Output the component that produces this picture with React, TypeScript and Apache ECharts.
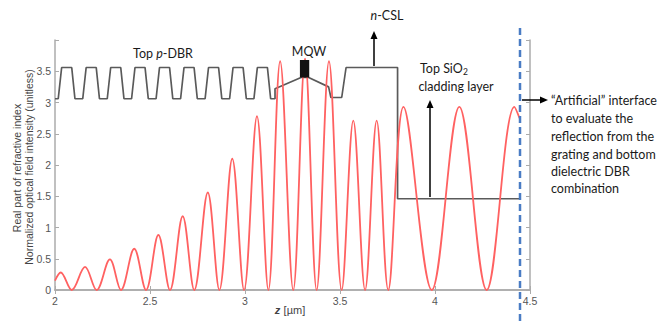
import React, { useEffect, useRef } from 'react';
import * as echarts from 'echarts';

// Tick labels
const xTicks = ['2', '2.5', '3', '3.5', '4', '4.5'];
const yTicks = ['0', '0.5', '1', '1.5', '2', '2.5', '3', '3.5', ''];

// Normalized optical field intensity (red), read as start / peaks / zeros / end
const fieldZ = [
  2.0, 2.03, 2.088, 2.158, 2.219, 2.289, 2.347, 2.417, 2.479, 2.544, 2.605, 2.672, 2.733,
  2.804, 2.865, 2.933, 2.995, 3.063, 3.123, 3.185, 3.254, 3.316, 3.377, 3.442, 3.509,
  3.57, 3.632, 3.693, 3.754, 3.834, 3.983, 4.128, 4.272, 4.418, 4.445,
];
const fieldI = [
  0.15, 0.28, 0, 0.37, 0, 0.49, 0, 0.66, 0, 0.88, 0, 1.18, 0,
  1.56, 0, 2.1, 0, 2.78, 0, 3.66, 0, 3.7, 0, 3.66, 0,
  2.71, 0, 2.71, 0, 2.93, 0, 2.93, 0, 2.93, 2.75,
];

// Real part of refractive index (gray)
const indexZ = [
  2.0, 2.017, 2.035, 2.088, 2.105, 2.146, 2.164, 2.217, 2.234, 2.275, 2.293, 2.346, 2.363,
  2.403, 2.421, 2.474, 2.491, 2.532, 2.55, 2.603, 2.62, 2.661, 2.679, 2.732, 2.749,
  2.79, 2.808, 2.861, 2.878, 2.919, 2.937, 2.99, 3.007, 3.047, 3.065, 3.118, 3.135,
  3.158, 3.158, 3.295, 3.335, 3.44, 3.452, 3.509, 3.532, 3.803, 3.803, 4.447,
];
const indexN = [
  3.06, 3.06, 3.56, 3.56, 3.06, 3.06, 3.56, 3.56, 3.06, 3.06, 3.56, 3.56, 3.06,
  3.06, 3.56, 3.56, 3.06, 3.06, 3.56, 3.56, 3.06, 3.06, 3.56, 3.56, 3.06,
  3.06, 3.56, 3.56, 3.06, 3.06, 3.56, 3.56, 3.06, 3.06, 3.56, 3.56, 3.06,
  3.06, 3.22, 3.4, 3.4, 3.25, 3.08, 3.08, 3.56, 3.56, 1.46, 1.46,
];

// MQW block
const mqwZ = [3.289, 3.338];
const mqwN = [3.4, 3.68];

const ANN_FONT = 'Lato, "Open Sans", sans-serif';
const AX_FONT = '"Liberation Sans", Arial, sans-serif';

export default function App() {
  const ref = useRef<HTMLDivElement>(null);
  useEffect(() => {
    const chart = echarts.init(ref.current!, null, { renderer: 'svg' });
    const axisLine = { show: true, lineStyle: { color: '#ababab', width: 1.5 } };
    const axisTick = { show: true, inside: true, length: 4, lineStyle: { color: '#ababab', width: 1 } };
    const annText = (x: number, y: number, text: string, align = 'center', size = 12.5) => ({
      type: 'text',
      x,
      y,
      z: 100,
      style: { text, fill: '#1a1a1a', font: `${size}px ${ANN_FONT}`, textAlign: align, textVerticalAlign: 'middle' },
    });
    const arrowHead = (pts: number[][]) => ({
      type: 'polygon',
      z: 100,
      shape: { points: pts },
      style: { fill: '#000' },
    });
    const vline = (x1: number, y1: number, x2: number, y2: number) => ({
      type: 'line',
      z: 100,
      shape: { x1, y1, x2, y2 },
      style: { stroke: '#000', lineWidth: 1.5 },
    });

    chart.setOption({
      animation: false,
      backgroundColor: '#fff',
      grid: { left: 55, right: 134, top: 40, bottom: 33, containLabel: false },
      xAxis: [
        {
          type: 'value', min: 2, max: 4.5, interval: 0.5,
          axisLine, axisTick, splitLine: { show: false },
          axisLabel: {
            color: '#555', fontSize: 10.5, fontFamily: AX_FONT, margin: 5,
            formatter: (v: number) => xTicks[Math.round((v - 2) / 0.5)] ?? '',
          },
        },
        {
          type: 'value', position: 'top', min: 2, max: 4.5, interval: 0.5,
          axisLine, axisTick, splitLine: { show: false }, axisLabel: { show: false },
        },
      ],
      yAxis: [
        {
          type: 'value', min: 0, max: 4, interval: 0.5,
          axisLine, axisTick, splitLine: { show: false },
          axisLabel: {
            color: '#555', fontSize: 10.5, fontFamily: AX_FONT, margin: 4,
            formatter: (v: number) => yTicks[Math.round(v / 0.5)] ?? '',
          },
        },
        {
          type: 'value', position: 'right', min: 0, max: 4, interval: 0.5,
          axisLine, axisTick, splitLine: { show: false }, axisLabel: { show: false },
        },
      ],
      series: [
        {
          type: 'line',
          name: 'index',
          data: indexZ.map((z, i) => [z, indexN[i]]),
          showSymbol: false,
          symbol: 'none',
          lineStyle: { color: '#5a5a5a', width: 1.7 },
          z: 2,
        },
        {
          type: 'line',
          name: 'field',
          data: fieldZ.map((z, i) => [z, fieldI[i]]),
          showSymbol: false,
          symbol: 'none',
          smooth: 0.36,
          lineStyle: { color: '#ff6161', width: 1.8 },
          z: 3,
        },
        {
          type: 'custom',
          name: 'mqw',
          z: 5,
          data: [[mqwZ[0], mqwN[0], mqwZ[1], mqwN[1]]],
          encode: { x: [0, 2], y: [1, 3] },
          renderItem: (_p: any, api: any) => {
            const a = api.coord([api.value(0), api.value(1)]);
            const b = api.coord([api.value(2), api.value(3)]);
            return {
              type: 'rect',
              shape: { x: a[0], y: b[1], width: b[0] - a[0], height: a[1] - b[1] },
              style: { fill: '#111' },
            };
          },
        },
      ],
      graphic: [
        // y axis title (two rotated lines)
        {
          type: 'text', x: 17, y: 168, rotation: Math.PI / 2, z: 100,
          style: { text: 'Real part of refractive index', fill: '#444', font: `10.5px ${AX_FONT}`, textAlign: 'center', textVerticalAlign: 'middle' },
        },
        {
          type: 'text', x: 29, y: 167, rotation: Math.PI / 2, z: 100,
          style: { text: 'Normalized optical field intensity (unitless)', fill: '#444', font: `10.5px ${AX_FONT}`, textAlign: 'center', textVerticalAlign: 'middle' },
        },
        // x axis title
        {
          type: 'text', x: 290, y: 310, z: 100,
          style: {
            text: '{i|z} {n|[µm]}', textAlign: 'center', textVerticalAlign: 'middle',
            rich: {
              i: { fontStyle: 'italic', fontSize: 11, fontFamily: AX_FONT, fill: '#444', fontWeight: 'bold' },
              n: { fontSize: 11, fontFamily: AX_FONT, fill: '#444' },
            },
          },
        },
        // Top p-DBR
        {
          type: 'text', x: 163, y: 53, z: 100,
          style: {
            text: '{n|Top }{i|p}{n|-DBR}', textAlign: 'center', textVerticalAlign: 'middle',
            rich: {
              n: { fontSize: 12.5, fontFamily: ANN_FONT, fill: '#1a1a1a' },
              i: { fontSize: 12.5, fontFamily: ANN_FONT, fill: '#1a1a1a', fontStyle: 'italic' },
            },
          },
        },
        annText(309, 51, 'MQW'),
        // n-CSL
        {
          type: 'text', x: 387, y: 15, z: 100,
          style: {
            text: '{i|n}{n|-CSL}', textAlign: 'center', textVerticalAlign: 'middle',
            rich: {
              n: { fontSize: 12.5, fontFamily: ANN_FONT, fill: '#1a1a1a' },
              i: { fontSize: 12.5, fontFamily: ANN_FONT, fill: '#1a1a1a', fontStyle: 'italic' },
            },
          },
        },
        vline(374, 66, 374, 37),
        arrowHead([[374, 31], [370.5, 39], [377.5, 39]]),
        // Top SiO2 cladding layer
        annText(420, 68, 'Top SiO', 'left'),
        annText(463, 72, '2', 'left', 8.5),
        annText(456, 86, 'cladding layer'),
        vline(430, 197, 430, 106),
        arrowHead([[430, 100], [426.5, 108], [433.5, 108]]),
        // Artificial interface dashed line
        {
          type: 'line', z: 90,
          shape: { x1: 520, y1: 28, x2: 520, y2: 323 },
          style: { stroke: '#4a7cc4', lineWidth: 2.5, lineDash: [7, 4] },
        },
        {
          type: 'line', z: 100,
          shape: { x1: 522, y1: 100, x2: 541, y2: 100 },
          style: { stroke: '#000', lineWidth: 1.5 },
        },
        arrowHead([[548, 100], [540, 96.5], [540, 103.5]]),
        annText(551, 100, '“Artificial” interface', 'left'),
        annText(551, 118, 'to evaluate the', 'left'),
        annText(551, 136, 'reflection from the', 'left'),
        annText(551, 154, 'grating and bottom', 'left'),
        annText(551, 171, 'dielectric DBR', 'left'),
        annText(551, 188, 'combination', 'left'),
      ],
    });
    return () => chart.dispose();
  }, []);
  return (
    <div
      ref={ref}
      style={{ position: 'fixed', left: 0, top: 0, width: 664, height: 323, background: '#fff' }}
    />
  );
}
